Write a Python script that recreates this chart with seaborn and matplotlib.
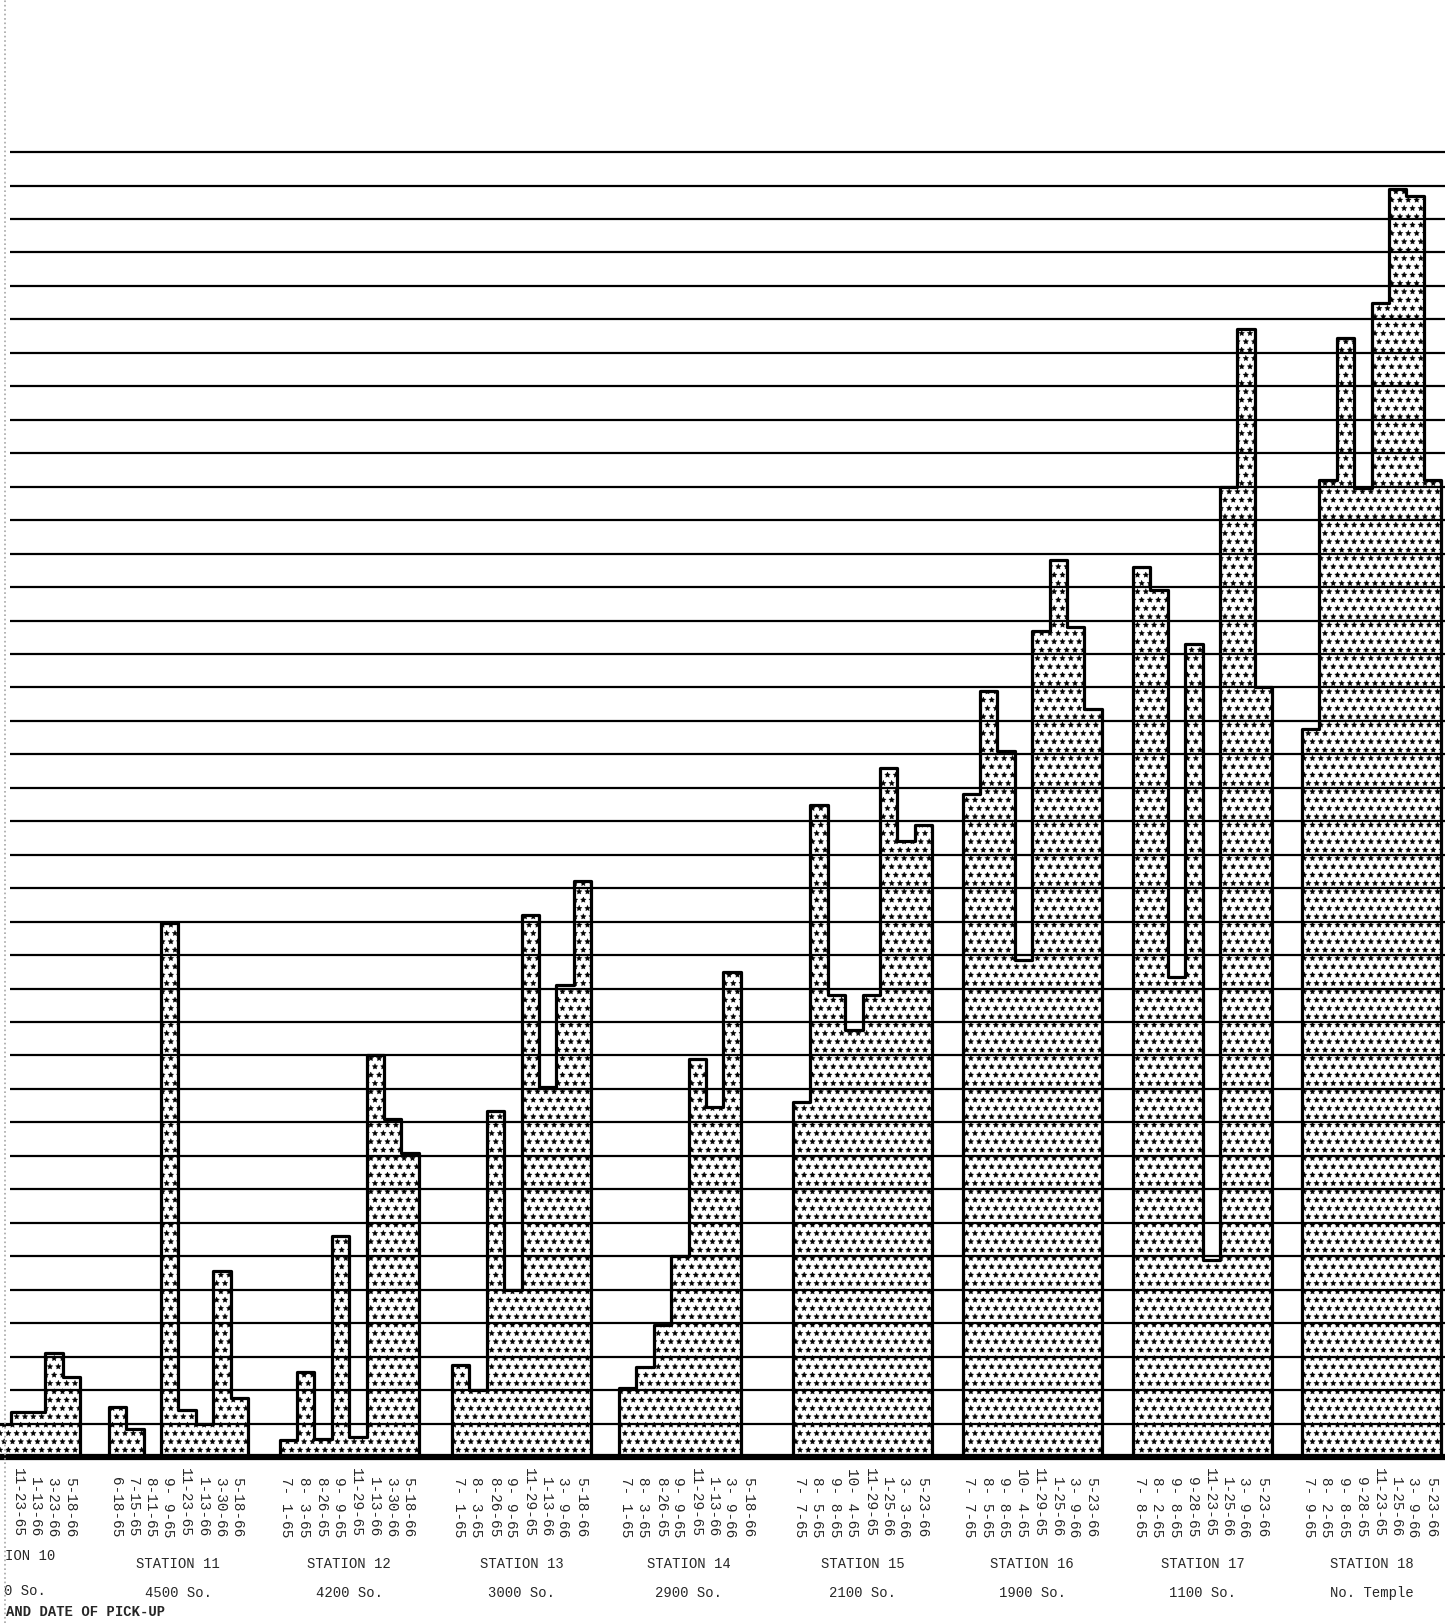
import numpy as np
import pandas as pd
import matplotlib
matplotlib.use("Agg")
import matplotlib.pyplot as plt
from matplotlib.lines import Line2D
import seaborn as sns

sns.set_style("white")
plt.rcParams['font.family'] = ['Liberation Mono', 'DejaVu Sans Mono']
plt.rcParams['hatch.linewidth'] = 0.3
plt.rcParams['hatch.color'] = 'black'

# station names and street locations
station_names = ["STATION 10", "STATION 11", "STATION 12", "STATION 13", "STATION 14",
                 "STATION 15", "STATION 16", "STATION 17", "STATION 18"]
streets = ["0 So.", "4500 So.", "4200 So.", "3000 So.", "2900 So.",
           "2100 So.", "1900 So.", "1100 So.", "No. Temple"]

# dates of pick-up (station 10 is cut at the page edge, only last five visible)
st10_dates = ["", "11-23-65", "1-13-66", "3-23-66", "5-18-66"]
st11_dates = ["6-18-65", "7-15-65", "8-11-65", "9- 9-65", "11-23-65", "1-13-66", "3-30-66", "5-18-66"]
st12_dates = ["7- 1-65", "8- 3-65", "8-26-65", "9- 9-65", "11-29-65", "1-13-66", "3-30-66", "5-18-66"]
st13_dates = ["7- 1-65", "8- 3-65", "8-26-65", "9- 9-65", "11-29-65", "1-13-66", "3- 9-66", "5-18-66"]
st14_dates = ["7- 1-65", "8- 3-65", "8-26-65", "9- 9-65", "11-29-65", "1-13-66", "3- 9-66", "5-18-66"]
st15_dates = ["7- 7-65", "8- 5-65", "9- 8-65", "10- 4-65", "11-29-65", "1-25-66", "3- 3-66", "5-23-66"]
st16_dates = ["7- 7-65", "8- 5-65", "9- 8-65", "10- 4-65", "11-29-65", "1-25-66", "3- 9-66", "5-23-66"]
st17_dates = ["7- 8-65", "8- 2-65", "9- 8-65", "9-28-65", "11-23-65", "1-25-66", "3- 9-66", "5-23-66"]
st18_dates = ["7- 9-65", "8- 2-65", "9- 8-65", "9-28-65", "11-23-65", "1-25-66", "3- 9-66", "5-23-66"]

# bar heights in grid units
st10_vals = [1.0, 1.35, 1.35, 3.1, 2.4]
st11_vals = [1.48, 0.85, 0.0, 15.95, 1.4, 1.0, 5.55, 1.75]
st12_vals = [0.5, 2.55, 0.55, 6.6, 0.6, 12.0, 10.1, 9.1]
st13_vals = [2.75, 2.0, 10.35, 5.0, 16.2, 11.05, 14.1, 17.2]
st14_vals = [2.05, 2.7, 3.95, 6.0, 11.9, 10.45, 14.5, 0.0]
st15_vals = [10.6, 19.5, 13.8, 12.75, 13.8, 20.6, 18.4, 18.9]
st16_vals = [19.8, 22.9, 21.1, 14.85, 24.7, 26.8, 24.8, 22.35]
st17_vals = [26.6, 25.9, 14.35, 24.3, 5.9, 29.0, 33.7, 23.0]
st18_vals = [21.75, 29.2, 33.45, 28.95, 34.5, 37.9, 37.7, 29.2]

all_dates = [st10_dates, st11_dates, st12_dates, st13_dates, st14_dates,
             st15_dates, st16_dates, st17_dates, st18_dates]
all_vals = [st10_vals, st11_vals, st12_vals, st13_vals, st14_vals,
            st15_vals, st16_vals, st17_vals, st18_vals]

W, H = 1445, 1623
slot_px = 17.4
grid_px = 33.46
base_px = 1457
# left edge of each station block on the sheet, in pixels (station 10 off page)
block_left_px = [-59, 108.7, 279.5, 452, 619, 793, 962.5, 1133, 1302]

xmin = 0.0
xmax = W / slot_px

fig = plt.figure(figsize=(W / 100, H / 100), dpi=100)
ax = fig.add_axes([0, (H - base_px) / H, 1, 40 * grid_px / H])

for i, (vals, dates) in enumerate(zip(all_vals, all_dates)):
    start = block_left_px[i] / slot_px
    mid = start + 4
    if i == 0:
        start += 3  # first three slots of station 10 are off the page
    n = len(vals)
    df = pd.DataFrame({"slot": start + np.arange(n) + 0.5, "val": vals})
    sns.histplot(data=df, x="slot", weights="val", binwidth=1,
                 binrange=(start, start + n), element="step", fill=True,
                 facecolor="white", edgecolor="black", linewidth=2.3, alpha=1,
                 hatch="**", ax=ax, zorder=1)
    for c, d in zip(df["slot"], dates):
        ax.text(c - 0.1, -2.39, d, rotation=-90, ha="center", va="bottom",
                fontsize=10.4, clip_on=False)
    if i == 0:
        ax.text(5 / slot_px, -2.95, "ION 10", ha="left", va="center", fontsize=10)
        ax.text(4 / slot_px, -4.0, streets[i], ha="left", va="center", fontsize=10)
    else:
        ax.text(mid, -3.2, station_names[i], ha="center", va="center", fontsize=10)
        ax.text(mid, -4.05, streets[i], ha="center", va="center", fontsize=10)

ax.text(6 / slot_px, -4.63, "AND DATE OF PICK-UP", ha="left", va="center",
        fontsize=10, fontweight="bold")

# ruled lines drawn over the bars, like the original sheet
ax.hlines(np.arange(1, 40), 10 / slot_px, xmax, colors="black", lw=1.6, zorder=3)
ax.axhline(0, color="black", lw=4.5, zorder=4, clip_on=False)

ax.set_xlim(xmin, xmax)
ax.set_ylim(0, 40)
ax.set_axis_off()

fig.add_artist(Line2D([5 / W, 5 / W], [0, 1], ls=":", color="0.65", lw=1.2))

fig.savefig("out.png", dpi=100)
